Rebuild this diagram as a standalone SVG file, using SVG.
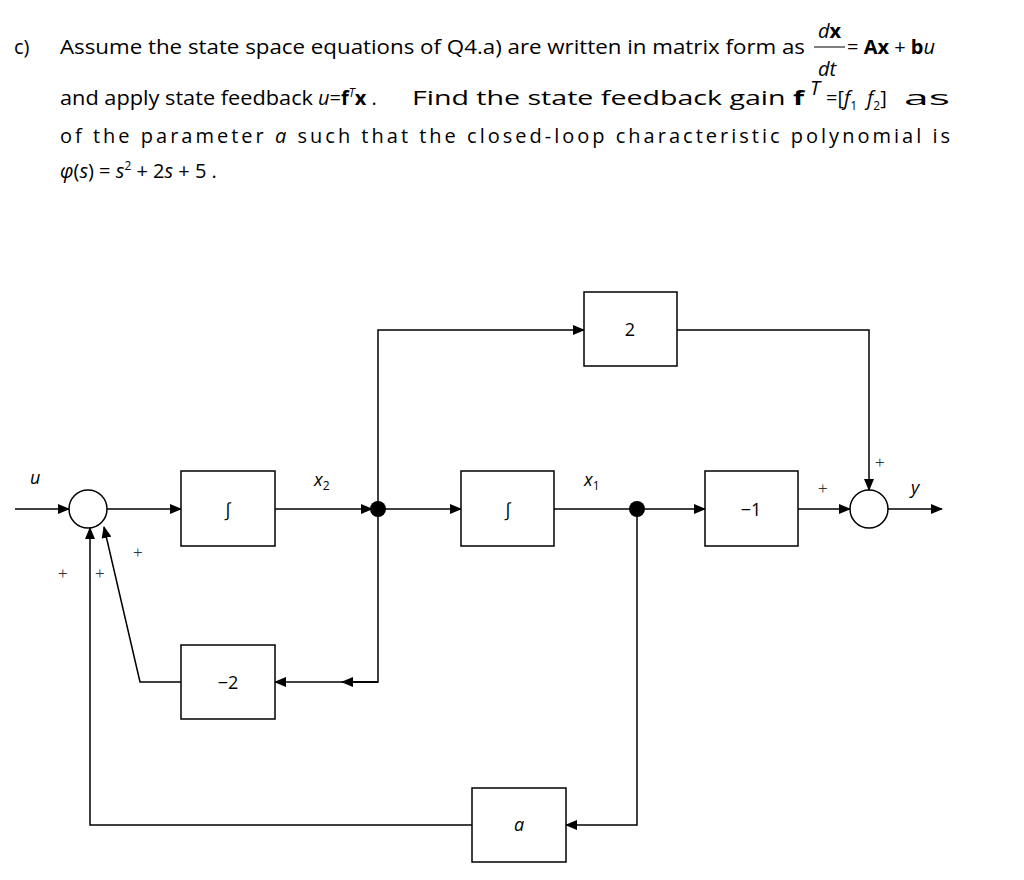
<svg xmlns="http://www.w3.org/2000/svg" width="1024" height="880" viewBox="0 0 1024 880">
<defs>
<marker id="ah" markerWidth="12" markerHeight="10" refX="11" refY="5" orient="auto" markerUnits="userSpaceOnUse"><path d="M0,0 L12,5 L0,10 Z" fill="#000"/></marker>
</defs>
<style>
.t{font-family:"Open Sans","Liberation Sans",sans-serif;font-size:20px;fill:#000}
.b{fill:#fff;stroke:#000;stroke-width:1.5}
.c{fill:none;stroke:#000;stroke-width:1.5}
.p{font-family:"Liberation Serif",serif;font-size:17px;fill:#333}
.l{font-family:"Open Sans","Liberation Sans",sans-serif;font-size:18px}
.v{font-family:"Open Sans","Liberation Sans",sans-serif;font-size:18px;font-style:italic}
</style>
<rect width="1024" height="880" fill="#fff"/>
<g id="text">
<text class="t" x="14" y="54">c)</text>
<text class="t" x="60" y="54" textLength="745" lengthAdjust="spacingAndGlyphs">Assume the state space equations of Q4.a) are written in matrix form as</text>
<text class="t" x="818" y="38" font-weight="bold" font-size="18"><tspan font-style="italic" font-weight="normal">d</tspan>x</text>
<line x1="814" y1="47" x2="845" y2="47" stroke="#000" stroke-width="1"/>
<text class="t" x="818" y="76" font-style="italic">dt</text>
<text class="t" x="847" y="54">= <tspan font-weight="bold">Ax</tspan> + <tspan font-weight="bold">b</tspan><tspan font-style="italic">u</tspan></text>
<text class="t" x="60" y="105" textLength="253" lengthAdjust="spacingAndGlyphs">and apply state feedback</text>
<text class="t" x="318" y="105"><tspan font-style="italic">u</tspan>=<tspan font-weight="bold">f</tspan><tspan font-size="12" dy="-8" font-style="italic">T</tspan><tspan dy="8" font-weight="bold">x</tspan> .</text>
<text class="t" x="412" y="105" textLength="392" lengthAdjust="spacingAndGlyphs">Find the state feedback gain <tspan font-weight="bold">f</tspan></text>
<text class="t" x="810" y="95" font-size="12" font-style="italic">T</text>
<text class="t" x="826" y="105">=[<tspan font-style="italic">f</tspan><tspan font-size="12" dy="5">1</tspan><tspan dy="-5" dx="10" font-style="italic">f</tspan><tspan font-size="12" dy="5">2</tspan><tspan dy="-5">]</tspan></text>
<text class="t" x="904" y="105" textLength="46" lengthAdjust="spacingAndGlyphs">as</text>
<text class="t" x="824" y="105" display="none">as function</text>
<text class="t" x="60" y="143" textLength="890" lengthAdjust="spacing">of the parameter <tspan font-style="italic">a</tspan> such that the closed-loop characteristic polynomial is</text>
<text class="t" x="60" y="178"><tspan font-style="italic">φ</tspan>(<tspan font-style="italic">s</tspan>) = <tspan font-style="italic">s</tspan><tspan font-size="12" dy="-8">2</tspan><tspan dy="8"> + 2</tspan><tspan font-style="italic">s</tspan> + 5 .</text>
</g>
<g id="connectors" class="c">
<line x1="15" y1="509" x2="69" y2="509" marker-end="url(#ah)"/>
<line x1="107" y1="509" x2="181" y2="509" marker-end="url(#ah)"/>
<line x1="275" y1="509" x2="372" y2="509" marker-end="url(#ah)"/>
<line x1="378" y1="509" x2="461" y2="509" marker-end="url(#ah)"/>
<line x1="554" y1="509" x2="705" y2="509" marker-end="url(#ah)"/>
<line x1="798" y1="509" x2="850" y2="509" marker-end="url(#ah)"/>
<line x1="888" y1="509" x2="942" y2="509" marker-end="url(#ah)"/>
<polyline points="378,509 378,330 584,330" marker-end="url(#ah)"/>
<polyline points="677,330 869,330 869,490" marker-end="url(#ah)"/>
<polyline points="378,509 378,682 345,682"/>
<line x1="380" y1="682" x2="275" y2="682" marker-end="url(#ah)" stroke="none"/>
<polyline points="378,682 275,682" marker-end="url(#ah)" marker-start="none" style="marker-end:none"/>
<polyline points="378,682 342,682" marker-end="url(#ah)"/>
<polyline points="181,682 140,682 104,527" marker-end="url(#ah)"/>
<polyline points="637,509 637,825 566,825" marker-end="url(#ah)"/>
<polyline points="472,825 90,825 90,528" marker-end="url(#ah)"/>
</g>
<circle cx="378" cy="509" r="8" fill="#000"/>
<circle cx="637" cy="509" r="8" fill="#000"/>
<g id="sum1"><circle class="b" cx="88" cy="509" r="19"/></g>
<g id="sum2"><circle class="b" cx="869" cy="509" r="19"/></g>
<g id="int1"><rect class="b" x="181" y="471" width="94" height="75"/><text class="l" x="228" y="516" text-anchor="middle" font-family="DejaVu Sans">∫</text></g>
<g id="int2"><rect class="b" x="461" y="471" width="93" height="75"/><text class="l" x="508" y="516" text-anchor="middle" font-family="DejaVu Sans">∫</text></g>
<g id="gain-1"><rect class="b" x="705" y="471" width="93" height="75"/><text class="l" x="751" y="516" text-anchor="middle">−1</text></g>
<g id="gain2"><rect class="b" x="584" y="292" width="93" height="74"/><text class="l" x="630" y="336" text-anchor="middle">2</text></g>
<g id="gain-2"><rect class="b" x="181" y="645" width="94" height="74"/><text class="l" x="228" y="689" text-anchor="middle">−2</text></g>
<g id="gaina"><rect class="b" x="472" y="788" width="94" height="74"/><text class="v" x="519" y="831" text-anchor="middle" font-size="16">a</text></g>
<g id="labels">
<text class="v" x="30" y="484">u</text>
<text class="v" x="314" y="486">x<tspan font-size="12" dy="4" font-style="normal">2</tspan></text>
<text class="v" x="584" y="486">x<tspan font-size="12" dy="4" font-style="normal">1</tspan></text>
<text class="v" x="911" y="494">y</text>
<text class="p" x="58" y="579">+</text>
<text class="p" x="95" y="579">+</text>
<text class="p" x="133" y="558">+</text>
<text class="p" x="818" y="494">+</text>
<text class="p" x="875" y="468">+</text>
</g>
</svg>
